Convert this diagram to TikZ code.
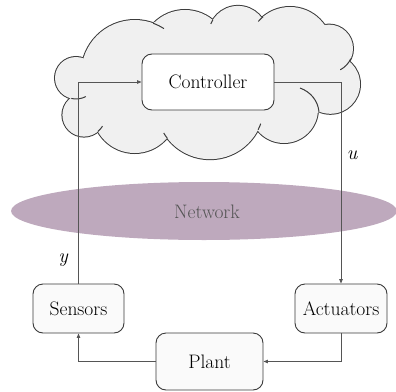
\documentclass[tikz,border=0pt]{standalone}
\usepackage{fontspec}
\usetikzlibrary{arrows.meta}

\definecolor{cloudfill}{HTML}{F0F0F0}
\definecolor{cloudline}{HTML}{3C3C3C}
\definecolor{netfill}{HTML}{BEA9BD}
\definecolor{wirecol}{HTML}{555555}
\definecolor{boxline}{HTML}{3A3A3A}
\definecolor{boxfill}{HTML}{FAFAFA}
\definecolor{nettext}{HTML}{555555}

\begin{document}
\begin{tikzpicture}[x=1pt,y=-1pt,
  block/.style={draw=boxline, line width=0.9pt, rounded corners=10pt,
    fill=#1, font=\fontsize{19.5}{23}\selectfont, inner sep=0pt},
  wire/.style={draw=wirecol, line width=0.8pt},
  tip/.style={-{Triangle[length=4.5pt,width=3.5pt]}},
  puffline/.style={draw=cloudline, line width=2pt},
  hook/.style={draw=cloudline, line width=1pt},
  lbl/.style={font=\fontsize{20}{23}\selectfont\itshape, inner sep=0pt},
]
\useasboundingbox (0,0) rectangle (396,391);

% cloud: union of puffs, outlined by stroking twice the width and filling over
\def\puffs{134.8/73.5/53.5, 185/53.7/43.7, 238/35.5/29.6, 290/49/42,
  329/48.6/24, 330.4/84.2/29.6, 284/109/34, 210/105.2/54,
  134.7/110.7/42.3, 84/115/21.6, 76/78/21}
\foreach \xa/\ya/\ra in \puffs
  \draw[puffline] (\xa,\ya) circle[radius=\ra];
\foreach \xa/\ya/\ra in \puffs
  \fill[cloudfill] (\xa,\ya) circle[radius=\ra];
\fill[cloudfill] (83,60) -- (155,22) -- (213,20) -- (262,18) -- (325,25)
  -- (350,62) -- (320,112) -- (258,130) -- (167,138) -- (97,130)
  -- (72,97) -- cycle;

% inner folds of the cloud
\draw[hook] (134.8,73.5) ++(-70:53.5) arc[start angle=-70, end angle=-57, radius=53.5];
\draw[hook] (238,35.5) ++(-148:29.6) arc[start angle=-148, end angle=-157, radius=29.6];
\draw[hook] (290,49) ++(-130:42) arc[start angle=-130, end angle=-139, radius=42];
\draw[hook] (329,48.6) ++(25:24) arc[start angle=25, end angle=62, radius=24];
\draw[hook] (300,88) .. controls (311,92) and (318,101) .. (319,112);
\draw[hook] (210,105.2) ++(27:54) arc[start angle=27, end angle=20, radius=54];
\draw[hook] (210,105.2) ++(142:54) arc[start angle=142, end angle=149, radius=54];
\draw[hook] (84,115) ++(50:21.6) arc[start angle=50, end angle=31, radius=21.6];
\draw[hook] (76,78) ++(103:21) arc[start angle=103, end angle=62, radius=21];

% network
\fill[netfill] (204,211) ellipse[x radius=193, y radius=29];
\node[font=\fontsize{19.5}{23}\selectfont, text=nettext] (net) at (207,212) {Network};

% blocks
\node[block=white, minimum width=132pt, minimum height=56pt] (ctrl) at (208,82) {Controller};
\node[block=boxfill, minimum width=91pt, minimum height=49pt] (sens) at (78.5,308.5) {Sensors};
\node[block=boxfill, minimum width=92pt, minimum height=49pt] (act) at (341,308.5) {Actuators};
\node[block=boxfill, minimum width=107pt, minimum height=57pt] (plant) at (209.5,361.5) {Plant};

% signal paths
\draw[wire,tip] (sens.north) -- (sens.north |- ctrl.west) -- (ctrl.west);
\draw[wire,tip] (ctrl.east) -| (act.north);
\draw[wire,tip] (act.south) |- (plant.east);
\draw[wire,tip] (plant.west) -| (sens.south);

% signal labels
\node[lbl] (ulab) at (352,155) {u};
\node[lbl] (ylab) at (63,260) {y};
\end{tikzpicture}
\end{document}
